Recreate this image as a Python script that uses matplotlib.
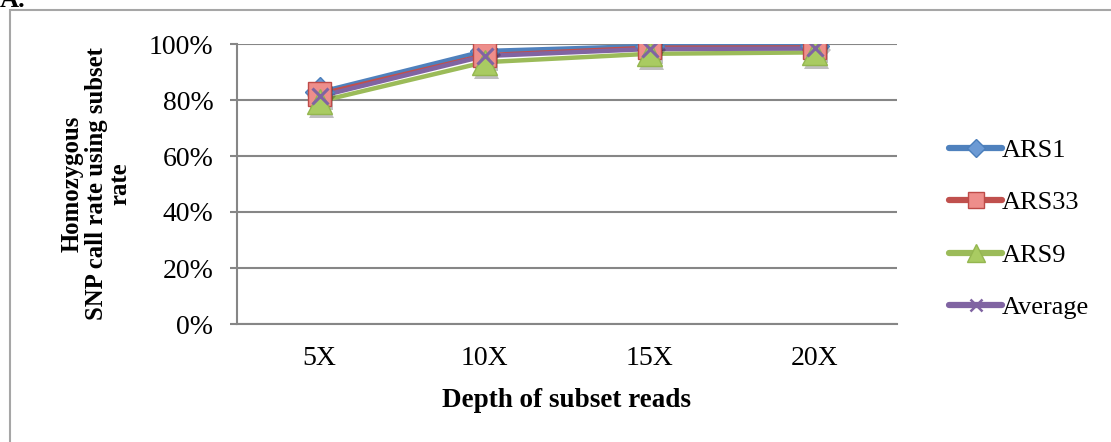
import matplotlib
matplotlib.use("Agg")
import matplotlib.pyplot as plt
import matplotlib.patheffects as pe
from matplotlib.lines import Line2D
from matplotlib.patches import Rectangle
from matplotlib.ticker import PercentFormatter

# Depth categories and homozygous SNP call rates (fractions)
depths = ["5X", "10X", "15X", "20X"]
ars1 = [0.828, 0.975, 0.993, 0.994]
ars33 = [0.821, 0.960, 0.987, 0.988]
ars9 = [0.795, 0.935, 0.965, 0.970]
average = [0.813, 0.957, 0.982, 0.984]
yticks = [0.0, 0.2, 0.4, 0.6, 0.8, 1.0]

plt.rcParams["font.family"] = ["Liberation Serif", "DejaVu Serif"]

W, H = 1111, 442
fig = plt.figure(figsize=(W / 100, H / 100), dpi=100)
ax = fig.add_axes([237 / W, 1 - 324 / H, 660 / W, 280 / H])

grid_c = "#868686"
x = list(range(len(depths)))

series = [
    ("ARS1", ars1, "#4F81BD", "D", "#6C9AD4", "#4A7EBB", 15, 0.6),
    ("ARS33", ars33, "#C0504D", "s", "#EE8E8B", "#BE4B48", 17, 0.7),
    ("ARS9", ars9, "#9BBB59", "^", "#A9CB62", "#94B650", 18, 0.7),
    ("Average", average, "#8064A2", "x", "#8064A2", "#8064A2", 11, 0.8),
]

shadow = [pe.SimplePatchShadow(offset=(1.5, -3), shadow_rgbFace="#000000", alpha=0.25), pe.Normal()]

handles = []
for name, vals, lc, mk, mfc, mec, ms, lscale in series:
    ax.plot(x, vals, color=lc, lw=3.2, solid_capstyle="round", zorder=3)
for name, vals, lc, mk, mfc, mec, ms, lscale in series:
    if mk == "x":
        ax.plot(x, vals, ls="none", marker=mk, ms=ms, mew=2.2, color=mec, zorder=4)
    else:
        ax.plot(x, vals, ls="none", marker=mk, ms=ms, mfc=mfc, mec=mec, mew=1.0,
                zorder=4, path_effects=shadow)
    handles.append(Line2D([], [], color=lc, lw=4.5, solid_capstyle="round", marker=mk,
                          ms=ms * lscale, mfc=mfc, mec=mec,
                          mew=(1.8 if mk == "x" else 1.0)))

ax.set_xlim(-0.5, len(depths) - 0.5)
ax.set_ylim(0, 1)
ax.set_yticks(yticks)
ax.yaxis.set_major_formatter(PercentFormatter(1.0, decimals=0))
ax.set_xticks(x)
ax.set_xticklabels(depths)
ax.grid(axis="y", color=grid_c, lw=1.5, zorder=1)
ax.set_axisbelow(True)
for s in ["top", "right"]:
    ax.spines[s].set_visible(False)
ax.spines["left"].set_color(grid_c)
ax.spines["left"].set_linewidth(1.5)
ax.spines["bottom"].set_color(grid_c)
ax.spines["bottom"].set_linewidth(1.5)
ax.tick_params(axis="y", length=5, width=1.5, color=grid_c, pad=12, labelsize=20)
ax.tick_params(axis="x", length=0, pad=16, labelsize=20)

ax.set_xlabel("Depth of subset reads", fontsize=19.5, fontweight="bold", labelpad=12)
fig.text(96 / W, 1 - 184 / H, "Homozygous\nSNP call rate using subset\nrate",
         rotation=90, ha="center", va="center", multialignment="center",
         fontsize=17.8, fontweight="bold", linespacing=1.05)

fig.legend(handles=handles, labels=[s[0] for s in series],
           loc="center left", bbox_to_anchor=(936 / W, 1 - 229 / H),
           frameon=False, fontsize=19, handlelength=2.0, handletextpad=0.0,
           labelspacing=1.1, borderpad=0)

# Outer chart border and panel letter
fig.patches.append(Rectangle((10 / W, -0.1), 1.2, 1 - 10 / H + 0.1,
                             transform=fig.transFigure, fill=False,
                             ec="#A6A6A6", lw=1.5))
fig.text(0.0, 1 - 7 / H, "A.", fontsize=19, fontweight="bold", va="baseline", ha="left")

fig.savefig("out.png", dpi=100)
